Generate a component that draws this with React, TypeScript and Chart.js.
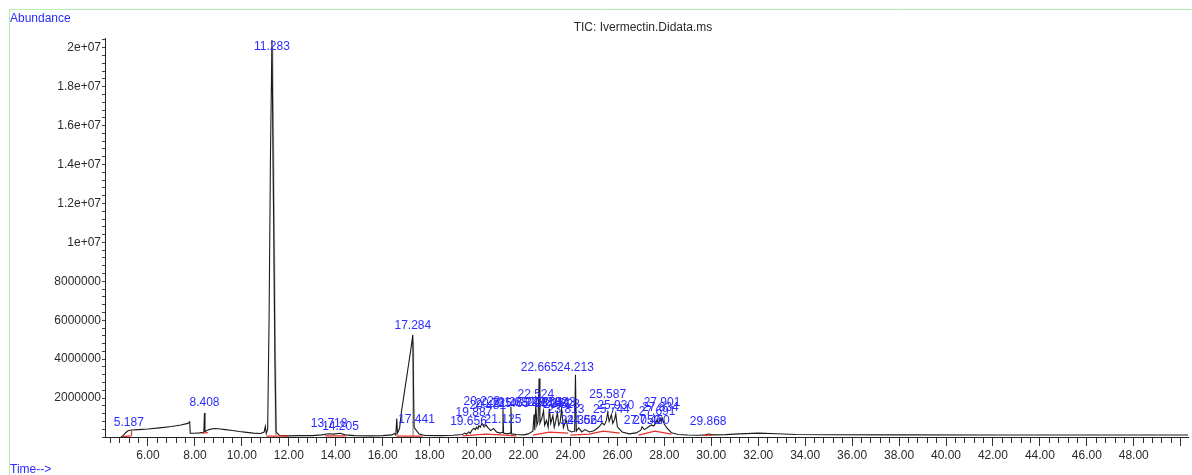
import React, { useEffect, useRef } from 'react';
import { Chart, registerables } from 'chart.js';

Chart.register(...registerables);

const FONT = '"Liberation Sans", Arial, sans-serif';
const X_MIN = 4.17;
const X_MAX = 50.31;
const Y_MAX = 2.05e7;

const chartTitle = 'TIC: Ivermectin.Didata.ms';
const yAxisTitle = 'Abundance';
const xAxisTitle = 'Time-->';

// Total ion chromatogram: [retention time (min), abundance]
const ticTrace: [number, number][] = [
  [4.85, 0], [4.95, 80000], [5.05, 220000], [5.15, 320000], [5.3, 360000], [5.6, 380000],
  [6.0, 410000], [6.5, 470000], [7.0, 540000], [7.4, 620000], [7.7, 700000], [7.78, 780000],
  [7.8, 200000], [8.0, 190000], [8.2, 210000], [8.38, 240000], [8.408, 1230000], [8.43, 280000],
  [8.6, 380000], [8.8, 440000], [9.0, 420000], [9.3, 380000], [9.6, 330000], [9.9, 280000],
  [10.2, 240000], [10.5, 200000], [10.8, 180000], [10.95, 250000], [11.0, 550000], [11.04, 180000],
  [11.1, 400000], [11.16, 6000000], [11.22, 14500000], [11.283, 20400000], [11.35, 12000000],
  [11.41, 4000000], [11.46, 250000], [11.6, 90000], [12.0, 60000], [12.5, 70000], [13.0, 70000],
  [13.4, 110000], [13.7, 170000], [13.9, 150000], [14.2, 190000], [14.4, 110000], [14.8, 70000],
  [15.5, 60000], [16.0, 70000], [16.4, 110000], [16.5, 180000], [16.56, 100000], [16.6, 950000],
  [16.63, 200000], [16.72, 450000], [16.8, 1300000], [16.9, 2100000], [17.0, 2900000],
  [17.1, 3700000], [17.2, 4500000], [17.284, 5250000], [17.31, 2800000], [17.34, 500000],
  [17.441, 330000], [17.55, 150000], [17.8, 80000], [18.5, 70000], [19.0, 90000], [19.4, 130000],
  [19.5, 200000], [19.58, 140000], [19.656, 260000], [19.73, 200000], [19.8, 340000], [19.887, 450000],
  [19.95, 380000], [20.0, 500000], [20.06, 420000], [20.1, 580000], [20.16, 500000],
  [20.229, 700000], [20.32, 520000], [20.4, 620000], [20.481, 480000], [20.55, 400000], [20.6, 330000],
  [20.725, 440000], [20.85, 260000], [21.0, 200000], [21.1, 240000], [21.125, 1450000],
  [21.15, 200000], [21.3, 160000], [21.44, 200000], [21.465, 1550000], [21.49, 160000],
  [21.7, 130000], [22.0, 110000], [22.2, 160000], [22.4, 300000], [22.45, 1150000],
  [22.48, 350000], [22.524, 1700000], [22.57, 600000], [22.62, 800000], [22.665, 3000000],
  [22.7, 700000], [22.78, 950000], [22.853, 1350000], [22.9, 600000], [22.98, 850000],
  [23.05, 500000], [23.102, 1450000], [23.16, 700000], [23.251, 1100000], [23.31, 500000],
  [23.37, 800000], [23.443, 1250000], [23.5, 600000], [23.56, 750000], [23.623, 1450000],
  [23.7, 480000], [23.813, 900000], [23.9, 350000], [24.05, 260000], [24.18, 300000],
  [24.213, 3200000], [24.25, 300000], [24.356, 470000], [24.48, 260000], [24.624, 380000],
  [24.8, 260000], [25.0, 320000], [25.2, 500000], [25.35, 720000], [25.45, 620000],
  [25.53, 850000], [25.587, 1250000], [25.65, 800000], [25.744, 1150000], [25.8, 700000],
  [25.88, 900000], [25.93, 1200000], [26.0, 520000], [26.2, 260000], [26.5, 160000],
  [26.8, 210000], [27.0, 350000], [27.05, 520000], [27.15, 380000], [27.3, 500000],
  [27.45, 620000], [27.55, 560000], [27.65, 750000], [27.691, 900000], [27.76, 720000],
  [27.834, 950000], [27.87, 780000], [27.901, 1000000], [28.0, 650000], [28.1, 480000],
  [28.3, 220000], [28.6, 130000], [29.0, 100000], [29.5, 90000], [29.75, 110000],
  [29.868, 150000], [30.1, 110000], [30.6, 120000], [31.2, 160000], [32.0, 200000],
  [32.8, 170000], [33.6, 130000], [35.0, 115000], [38.0, 110000], [42.0, 105000],
  [46.0, 100000], [50.31, 100000],
];

// Integration baselines (red): [t1, a1, t2, a2]
const integrationBaselines: [number, number, number, number][] = [
  [4.9, 20000, 5.3, 60000], [5.3, 60000, 5.3, 320000], [8.3, 200000, 8.55, 220000],
  [11.05, 40000, 12.0, 40000], [13.55, 60000, 14.45, 60000], [16.6, 40000, 17.7, 40000],
  [19.4, 60000, 20.4, 150000], [20.4, 150000, 21.2, 100000], [21.2, 100000, 21.7, 60000],
  [22.4, 100000, 23.1, 250000], [23.1, 250000, 23.9, 200000], [24.0, 100000, 24.8, 150000],
  [24.8, 150000, 25.4, 300000], [25.4, 300000, 26.1, 200000], [26.9, 100000, 27.6, 300000],
  [27.6, 300000, 28.3, 150000], [29.65, 80000, 30.05, 100000],
];

// Drop lines (grey): [t1, a1, t2, a2]
const dropLines: [number, number, number, number][] = [
  [11.3, 20000000, 11.45, 100000], [17.3, 4900000, 17.3, 50000],
];

// Peak labels: retention time and height of label anchor
const peakTimes = [
  5.187, 8.408, 11.283, 13.718, 14.205, 17.284, 17.441, 19.656, 19.887, 20.229, 20.481, 20.725,
  21.125, 21.465, 21.682, 22.149, 22.524, 22.665, 22.853, 23.102, 23.251, 23.443, 23.623, 23.813,
  24.213, 24.356, 24.624, 25.587, 25.744, 25.93, 27.05, 27.45, 27.691, 27.834, 27.901, 29.868,
];
const peakLabelHeights = [
  205000, 1230000, 19530000, 154000, 20000, 5190000, 360000, 257000, 720000, 1280000, 1080000, 1180000,
  360000, 1180000, 1230000, 1230000, 1640000, 3030000, 1230000, 1230000, 1180000, 1230000, 1130000, 873000,
  3030000, 308000, 308000, 1640000, 873000, 1080000, 308000, 308000, 770000, 980000, 1230000, 257000,
];

const yMajorTicks = [2e6, 4e6, 6e6, 8e6, 1e7, 1.2e7, 1.4e7, 1.6e7, 1.8e7, 2e7];
const yTickLabels = ['2000000', '4000000', '6000000', '8000000', '1e+07', '1.2e+07', '1.4e+07', '1.6e+07', '1.8e+07', '2e+07'];
const xMajorTicks = [6, 8, 10, 12, 14, 16, 18, 20, 22, 24, 26, 28, 30, 32, 34, 36, 38, 40, 42, 44, 46, 48];

function segmentsToData(segs: [number, number, number, number][]) {
  const out: { x: number; y: number | null }[] = [];
  segs.forEach(([t1, a1, t2, a2]) => {
    out.push({ x: t1, y: a1 }, { x: t2, y: a2 }, { x: t2, y: null });
  });
  return out;
}

export default function App() {
  const ref = useRef<HTMLCanvasElement>(null);

  useEffect(() => {
    const canvas = ref.current;
    if (!canvas) return;

    const xTicks: number[] = [];
    for (let k = 0; k <= 114; k++) xTicks.push(Math.round((4.4 + 0.4 * k) * 10) / 10);
    const yTicks: number[] = [];
    for (let k = 0; k <= 51; k++) yTicks.push(k * 4e5);
    const isMajorX = (v: number) => Math.abs(v / 2 - Math.round(v / 2)) < 1e-6;

    const decor = {
      id: 'decor',
      beforeDraw(chart: any) {
        const ctx = chart.ctx;
        ctx.save();
        ctx.fillStyle = '#ffffff';
        ctx.fillRect(0, 0, chart.width, chart.height);
        ctx.strokeStyle = '#aef0ae';
        ctx.lineWidth = 1;
        ctx.beginPath();
        ctx.moveTo(9.5, chart.height);
        ctx.lineTo(9.5, 9.5);
        ctx.lineTo(chart.width, 9.5);
        ctx.stroke();
        ctx.font = `12px ${FONT}`;
        ctx.textBaseline = 'middle';
        ctx.fillStyle = '#2b2bff';
        ctx.textAlign = 'left';
        ctx.fillText(yAxisTitle, 10, 19);
        ctx.fillText(xAxisTitle, 10, 470);
        ctx.fillStyle = '#2a2a2a';
        ctx.textAlign = 'center';
        ctx.fillText(chartTitle, 643, 28);
        ctx.restore();
      },
      afterDatasetsDraw(chart: any) {
        const ctx = chart.ctx;
        const xs = chart.scales.x;
        const ys = chart.scales.y;
        ctx.save();
        ctx.font = `12px ${FONT}`;
        ctx.fillStyle = '#2b2bff';
        ctx.textAlign = 'center';
        ctx.textBaseline = 'middle';
        peakTimes.forEach((t, i) => {
          const px = xs.getPixelForValue(t);
          const py = ys.getPixelForValue(peakLabelHeights[i]) - 10;
          ctx.fillText(t.toFixed(3), px, py);
        });
        ctx.restore();
      },
    };

    const chart = new Chart(canvas, {
      type: 'line',
      data: {
        datasets: [
          {
            label: 'baseline',
            data: segmentsToData(integrationBaselines) as any,
            borderColor: '#e8312a',
            borderWidth: 1.2,
            pointRadius: 0,
            spanGaps: false,
          },
          {
            label: 'TIC',
            data: ticTrace.map(([x, y]) => ({ x, y })) as any,
            borderColor: '#1a1a1a',
            borderWidth: 1.1,
            pointRadius: 0,
          },
          {
            label: 'drop',
            data: segmentsToData(dropLines) as any,
            borderColor: '#b4b4b4',
            borderWidth: 2,
            pointRadius: 0,
            spanGaps: false,
          },
        ],
      },
      options: {
        animation: false,
        responsive: false,
        events: [],
        layout: { padding: { top: 38, right: 4, bottom: 0, left: 0 } },
        plugins: {
          legend: { display: false },
          tooltip: { enabled: false },
          title: { display: false },
        },
        elements: { point: { radius: 0 }, line: { tension: 0 } },
        scales: {
          x: {
            type: 'linear',
            min: X_MIN,
            max: X_MAX,
            afterBuildTicks: (s: any) => {
              s.ticks = xTicks.map((v) => ({ value: v }));
            },
            afterFit: (s: any) => {
              s.height = 38;
            },
            ticks: {
              autoSkip: false,
              maxRotation: 0,
              minRotation: 0,
              padding: 2,
              color: '#2a2a2a',
              font: { family: FONT, size: 12 },
              callback: (v: any) => {
                const n = Number(v);
                return xMajorTicks.some((m) => Math.abs(m - n) < 1e-6) ? n.toFixed(2) : '';
              },
            },
            grid: {
              drawOnChartArea: false,
              tickLength: 9,
              tickColor: '#333333',
              tickBorderDash: (c: any) => (c.tick && isMajorX(c.tick.value) ? [] : [5, 30]),
            } as any,
            border: { color: '#222222', width: 1 },
          },
          y: {
            type: 'linear',
            min: 0,
            max: Y_MAX,
            afterBuildTicks: (s: any) => {
              s.ticks = yTicks.map((v) => ({ value: v }));
            },
            afterFit: (s: any) => {
              s.width = 105;
            },
            ticks: {
              autoSkip: false,
              padding: 1,
              color: '#2a2a2a',
              font: { family: FONT, size: 12 },
              callback: (v: any) => {
                const n = Number(v);
                const i = yMajorTicks.findIndex((m) => Math.abs(m - n) < 1);
                return i >= 0 ? yTickLabels[i] : '';
              },
            },
            grid: {
              drawOnChartArea: false,
              tickLength: 3,
              tickColor: '#444444',
            },
            border: { color: '#222222', width: 1 },
          },
        },
      },
      plugins: [decor],
    });

    return () => chart.destroy();
  }, []);

  return (
    <div style={{ position: 'fixed', left: 0, top: 0, width: 1192, height: 475, background: '#fff' }}>
      <canvas ref={ref} width={1192} height={475} style={{ display: 'block', width: 1192, height: 475 }} />
    </div>
  );
}
